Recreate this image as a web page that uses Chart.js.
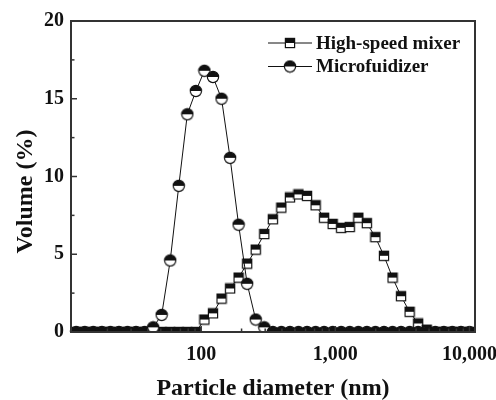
<!DOCTYPE html>
<html><head><meta charset="utf-8">
<script src="https://cdn.jsdelivr.net/npm/chart.js@4"></script>
<style>html,body{margin:0;padding:0;background:#fff}#wrap{width:496px;height:400px}</style>
</head><body><div id="wrap"><canvas id="c" width="496" height="400"></canvas></div>
<script>
// Particle size bins (nm)
const diameters = [11.70, 13.54, 15.69, 18.17, 21.04, 24.36, 28.21, 32.67, 37.84, 43.82, 50.75, 58.77, 68.06, 78.82, 91.28,
  105.7, 122.4, 141.8, 164.2, 190.1, 220.2, 255.0, 295.3, 342.0, 396.1, 458.7, 531.2, 615.1, 712.4, 825.0, 955.4,
  1106, 1281, 1484, 1718, 1990, 2305, 2669, 3091, 3580, 4145, 4801, 5560, 6439, 7456, 8635, 10000];
// Volume (%)
const highSpeedMixer = [0,0,0,0,0,0,0,0,0,0,0,0,0,0,0,
  0.8, 1.2, 2.15, 2.8, 3.5, 4.4, 5.3, 6.3, 7.25, 8.0, 8.65, 8.85, 8.75, 8.15, 7.35, 6.95,
  6.7, 6.75, 7.35, 7.0, 6.1, 4.9, 3.5, 2.3, 1.3, 0.55, 0.15, 0, 0, 0, 0, 0];
const microfluidizer = [0,0,0,0,0,0,0,0,0, 0.3, 1.1, 4.6, 9.4, 14.0, 15.5,
  16.8, 16.4, 15.0, 11.2, 6.9, 3.1, 0.8, 0.3, 0, 0, 0, 0, 0, 0, 0, 0,
  0,0,0,0,0,0,0,0,0,0,0,0,0,0,0,0];
const seriesNames = ['High-speed mixer', 'Microfuidizer'];
const xMajorTicks = [100, 1000, 10000];
const xMinorTicks = [20,30,40,50,60,70,80,90,200,300,400,500,600,700,800,900,2000,3000,4000,5000,6000,7000,8000,9000];
const yTicks = [0, 2.5, 5, 7.5, 10, 12.5, 15, 17.5, 20];
const yMajorTicks = [0, 5, 10, 15, 20];

const SERIF = "'Times New Roman', 'Liberation Serif', serif";
const INK = '#111';

function makeMarker(shape) {
  const s = shape === 'circle' ? 14 : 12;
  const cv = document.createElement('canvas');
  cv.width = s; cv.height = s;
  const g = cv.getContext('2d');
  const c = s / 2;
  g.lineWidth = 1.2;
  g.strokeStyle = INK;
  if (shape === 'circle') {
    const r = 5.6;
    g.beginPath(); g.arc(c, c, r, 0, Math.PI * 2); g.fillStyle = '#fff'; g.fill();
    g.beginPath(); g.arc(c, c, r, Math.PI, Math.PI * 2); g.closePath(); g.fillStyle = INK; g.fill();
    g.beginPath(); g.arc(c, c, r, 0, Math.PI * 2); g.stroke();
  } else {
    const h = 4.6;
    g.fillStyle = '#fff'; g.fillRect(c - h, c - h, 2 * h, 2 * h);
    g.fillStyle = INK; g.fillRect(c - h, c - h, 2 * h, h);
    g.strokeRect(c - h, c - h, 2 * h, 2 * h);
  }
  return cv;
}
const squareMarker = makeMarker('square');
const circleMarker = makeMarker('circle');

const framePlugin = {
  id: 'frameTicks',
  afterDraw(chart) {
    const {ctx, chartArea: a, scales} = chart;
    ctx.save();
    ctx.strokeStyle = '#333';
    ctx.lineWidth = 1.5;
    const xs = scales.x;
    xs.ticks.forEach(t => {
      const px = xs.getPixelForValue(t.value);
      const len = xMajorTicks.includes(t.value) ? 6 : 3.5;
      ctx.beginPath(); ctx.moveTo(px, a.bottom); ctx.lineTo(px, a.bottom - len); ctx.stroke();
    });
    const ys = scales.y;
    ys.ticks.forEach(t => {
      const py = ys.getPixelForValue(t.value);
      const len = yMajorTicks.includes(t.value) ? 6 : 3.5;
      ctx.beginPath(); ctx.moveTo(a.left, py); ctx.lineTo(a.left + len, py); ctx.stroke();
    });
    ctx.lineWidth = 2;
    ctx.strokeRect(a.left, a.top, a.right - a.left, a.bottom - a.top);

    // legend inside plot
    ctx.font = 'bold 19px ' + SERIF;
    ctx.textBaseline = 'middle';
    ctx.textAlign = 'left';
    ctx.fillStyle = INK;
    chart.data.datasets.forEach((ds, i) => {
      const y = a.top + 22 + i * 23.5;
      const x0 = a.left + 197;
      ctx.strokeStyle = INK; ctx.lineWidth = 1;
      ctx.beginPath(); ctx.moveTo(x0, y); ctx.lineTo(x0 + 44, y); ctx.stroke();
      const img = ds.pointStyle;
      ctx.drawImage(img, x0 + 22 - img.width / 2, y - img.height / 2);
      ctx.fillText(ds.label, x0 + 48, y + 1);
    });

    // y axis title
    ctx.save();
    ctx.translate(26, (a.top + a.bottom) / 2 + 15);
    ctx.rotate(-Math.PI / 2);
    ctx.textAlign = 'center';
    ctx.font = 'bold 24px ' + SERIF;
    ctx.fillText('Volume (%)', 0, 0);
    ctx.restore();
    ctx.restore();
  }
};

new Chart(document.getElementById('c'), {
  type: 'line',
  data: {
    datasets: [
      {
        label: seriesNames[0],
        data: diameters.map((d, i) => ({x: d, y: highSpeedMixer[i]})),
        borderColor: INK, borderWidth: 1,
        pointStyle: squareMarker, pointRadius: 5,
        order: 1,
        clip: {left: 8, top: 8, right: 8, bottom: 0}
      },
      {
        label: seriesNames[1],
        data: diameters.map((d, i) => ({x: d, y: microfluidizer[i]})),
        borderColor: INK, borderWidth: 1,
        pointStyle: circleMarker, pointRadius: 6,
        order: 0,
        clip: {left: 8, top: 8, right: 8, bottom: 0}
      }
    ]
  },
  options: {
    responsive: false,
    animation: false,
    devicePixelRatio: 1,
    layout: {padding: {top: 21, right: 21, left: 0, bottom: 0}},
    plugins: {legend: {display: false}, tooltip: {enabled: false}},
    scales: {
      x: {
        type: 'logarithmic',
        min: 10.7, max: 11000,
        grid: {display: false, drawTicks: false},
        border: {display: false},
        afterBuildTicks: s => {
          s.ticks = xMinorTicks.concat(xMajorTicks).sort((a, b) => a - b).map(v => ({value: v}));
        },
        afterFit: s => { s.height = 68; s.paddingLeft = 0; s.paddingRight = 0; },
        ticks: {
          autoSkip: false, maxRotation: 0, padding: 11,
          color: INK,
          font: {family: SERIF, size: 20, weight: 'bold'},
          callback: v => xMajorTicks.includes(v) ? Number(v).toLocaleString('en-US') : ''
        },
        title: {
          display: true, text: 'Particle diameter (nm)', color: INK,
          font: {family: SERIF, size: 24, weight: 'bold'},
          padding: {top: 0, bottom: -3}
        }
      },
      y: {
        min: 0, max: 20,
        grid: {display: false, drawTicks: false},
        border: {display: false},
        afterBuildTicks: s => { s.ticks = yTicks.map(v => ({value: v})); },
        afterFit: s => { s.width = 71; s.paddingTop = 0; s.paddingBottom = 0; },
        ticks: {
          autoSkip: false, padding: 7,
          color: INK,
          font: {family: SERIF, size: 20, weight: 'bold'},
          callback: v => yMajorTicks.includes(v) ? String(v) : ''
        }
      }
    }
  },
  plugins: [framePlugin]
});
</script>
</body></html>
